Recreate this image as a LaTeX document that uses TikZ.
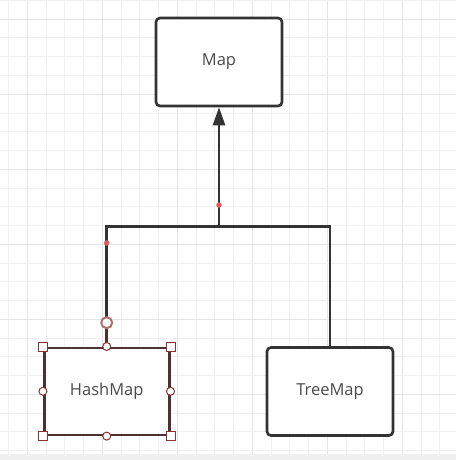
\documentclass[tikz,border=0pt]{standalone}
\usepackage{fontspec}
\setmainfont{Open Sans}
\usetikzlibrary{arrows.meta}
\definecolor{gridminor}{RGB}{240,240,240}
\definecolor{gridmajor}{RGB}{228,228,228}
\definecolor{boxline}{RGB}{51,51,51}
\definecolor{selline}{RGB}{78,48,48}
\definecolor{handle}{RGB}{140,50,50}
\definecolor{dotred}{RGB}{224,88,88}
\definecolor{txt}{RGB}{75,75,75}
\definecolor{strip}{RGB}{240,240,240}
\tikzset{
  x=1pt, y=-1pt,
  classbox/.style={draw=boxline, line width=2.6pt, rounded corners=4pt, fill=white,
    minimum width=126pt, minimum height=88pt, inner sep=0pt, font=\fontsize{16.5}{19}\selectfont, text=txt},
  selbox/.style={draw=selline, line width=2.6pt, fill=white,
    minimum width=125pt, minimum height=87pt, inner sep=0pt, font=\fontsize{16.5}{19}\selectfont, text=txt},
  conn/.style={draw=boxline, line width=2.6pt},
  sqhandle/.style={draw=handle, line width=1pt, fill=white, minimum size=9pt, inner sep=0pt},
  cirhandle/.style={draw=handle, line width=1pt, fill=white, circle, minimum size=8pt, inner sep=0pt},
  bighandle/.style={draw=handle!70!white, line width=2pt, fill=white, circle, minimum size=11pt, inner sep=0pt},
  reddot/.style={fill=dotred, circle, minimum size=5.5pt, inner sep=0pt},
}
\begin{document}
\begin{tikzpicture}
\useasboundingbox (0,0) rectangle (456,460);
\fill[white] (0,0) rectangle (456,460);
% grid
\foreach \k in {0,...,24}{
  \pgfmathsetmacro{\gx}{8.5+18.75*\k}
  \pgfmathtruncatemacro{\m}{mod(\k,4)}
  \ifnum\m=1
    \draw[gridmajor, line width=1pt] (\gx,0) -- (\gx,454);
  \else
    \draw[gridminor, line width=1pt] (\gx,0) -- (\gx,454);
  \fi
}
\foreach \k in {0,...,24}{
  \pgfmathsetmacro{\gy}{0.5+18.75*\k}
  \pgfmathtruncatemacro{\m}{mod(\k,4)}
  \ifnum\m=1
    \draw[gridmajor, line width=1pt] (0,\gy) -- (456,\gy);
  \else
    \draw[gridminor, line width=1pt] (0,\gy) -- (456,\gy);
  \fi
}
\fill[strip] (0,454) rectangle (456,460);
% boxes
\node[classbox] (map) at (219,62) {Map};
\node[classbox] (tree) at (330,391.5) {TreeMap};
\node[selbox] (hash) at (106.7,391.3) {HashMap};
% connectors
\coordinate (j) at (219,226.7);
\coordinate (hh) at (106.7,322.7);
\draw[conn] (hh) |- (j) -| (tree.north);
\draw[conn, draw=selline] (hash.north) -- (hh);
\draw[conn, -{Triangle[length=18pt,width=12pt]}] (j) -- (map.south);
% waypoints
\node[reddot] (d1) at (219,205) {};
\node[reddot] (d2) at (106.7,243) {};
% selection handles
\node[bighandle] (bh) at (hh) {};
\node[sqhandle] (s1) at (hash.north west) {};
\node[sqhandle] (s2) at (hash.north east) {};
\node[sqhandle] (s3) at (hash.south west) {};
\node[sqhandle] (s4) at (hash.south east) {};
\node[cirhandle] (c1) at (hash.north) {};
\node[cirhandle] (c2) at (hash.south) {};
\node[cirhandle] (c3) at (hash.west) {};
\node[cirhandle] (c4) at (hash.east) {};
\end{tikzpicture}
\end{document}
